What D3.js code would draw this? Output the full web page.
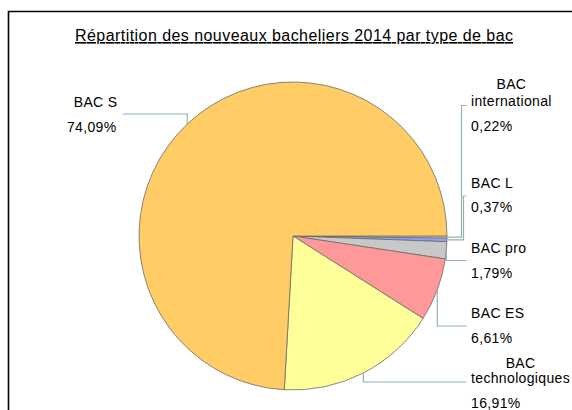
<!DOCTYPE html>
<html>
<head>
<meta charset="utf-8">
<script src="https://cdn.jsdelivr.net/npm/d3@7"></script>
<style>
  html, body { margin: 0; padding: 0; background: #fff; }
  svg { display: block; font-family: "Liberation Sans", Arial, sans-serif; }
</style>
</head>
<body>
<svg id="chart" width="572" height="410"></svg>
<script>
// ---- data ----
const categories = ["BAC international", "BAC L", "BAC pro", "BAC ES", "BAC technologiques", "BAC S"];
const nameLines = [["BAC", "international"], ["BAC L"], ["BAC pro"], ["BAC ES"], ["BAC", "technologiques"], ["BAC S"]];
const values = [0.22, 0.37, 1.79, 6.61, 16.91, 74.09];
const percentLabels = ["0,22%", "0,37%", "1,79%", "6,61%", "16,91%", "74,09%"];
const colors = ["#CCFFCC", "#9999FF", "#C8C8C8", "#FF9999", "#FFFF99", "#FFCC66"];
const title = "Répartition des nouveaux bacheliers 2014 par type de bac";

// ---- layout ----
const svg = d3.select("#chart");
const W = 572, H = 410;
const cx = 293, cy = 236, R = 154;
const FS = 14, LS = 0.35;

// frame
svg.append("path")
  .attr("d", `M8.5,${H + 5} L8.5,11.5 L${W + 5},11.5`)
  .attr("fill", "none").attr("stroke", "#000").attr("stroke-width", 1.6);

// title
svg.append("text")
  .attr("x", 75).attr("y", 41)
  .attr("font-size", 16)
  .attr("fill", "#000")
  .attr("text-decoration", "underline")
  .attr("textLength", 438)
  .attr("lengthAdjust", "spacing")
  .text(title);

// pie
const pie = d3.pie().sort(null).value(d => d).startAngle(Math.PI / 2).endAngle(Math.PI / 2 + 2 * Math.PI);
const arcs = pie(values);
const arc = d3.arc().innerRadius(0).outerRadius(R);
const g = svg.append("g").attr("transform", `translate(${cx},${cy})`);
g.selectAll("path.slice").data(arcs).enter().append("path")
  .attr("class", "slice")
  .attr("d", arc)
  .attr("fill", (d, i) => colors[i])
  .attr("stroke", "#6b6b6b")
  .attr("stroke-width", 0.8)
  .attr("stroke-linejoin", "round");

// label placement (layout only)
const labelX = 471;
const place = [
  { nameY: [89, 106], pctY: 131, side: "right", elbowX: 461.5, lineY: 105.5, center: true },
  { nameY: [188], pctY: 212, side: "right", elbowX: 463.5, lineY: 196 },
  { nameY: [253], pctY: 278, side: "right", lineY: 260.5 },
  { nameY: [318], pctY: 343, side: "right", lineY: 326 },
  { nameY: [368, 383], pctY: 408, side: "right", lineY: 382, center: true },
  { nameY: [107], pctY: 132, side: "left", lineY: 114, rightX: 117.5 }
];

function txt(x, y, s, anchor) {
  return svg.append("text").attr("x", x).attr("y", y)
    .attr("text-anchor", anchor || "start")
    .attr("font-size", FS).attr("letter-spacing", LS)
    .attr("fill", "#000").text(s);
}

const leaderColor = "#8fb5ab";
arcs.forEach((d, i) => {
  const p = place[i];
  const mid = (d.startAngle + d.endAngle) / 2;
  const ax = cx + R * Math.sin(mid);
  const ay = cy - R * Math.cos(mid);
  let pts;
  if (p.side === "left") {
    pts = [[ax, ay], [ax, p.lineY], [122.5, p.lineY]];
  } else if (p.elbowX) {
    pts = [[ax, ay], [p.elbowX, ay], [p.elbowX, p.lineY], [466.5, p.lineY]];
  } else {
    pts = [[ax, ay], [ax, p.lineY], [466.5, p.lineY]];
  }
  svg.append("path")
    .attr("d", d3.line()(pts))
    .attr("fill", "none")
    .attr("stroke", leaderColor)
    .attr("stroke-width", 1.2);

  const lines = nameLines[i];
  if (p.side === "left") {
    lines.forEach((ln, k) => txt(p.rightX, p.nameY[k], ln, "end"));
    txt(p.rightX - 1, p.pctY, percentLabels[i], "end");
  } else {
    if (p.center) {
      const tmp = lines.map(ln => txt(0, -50, ln));
      const widths = tmp.map(n => n.node().getComputedTextLength());
      tmp.forEach(n => n.remove());
      const maxW = d3.max(widths);
      lines.forEach((ln, k) => txt(labelX + maxW / 2, p.nameY[k], ln, "middle"));
    } else {
      lines.forEach((ln, k) => txt(labelX, p.nameY[k], ln));
    }
    txt(labelX, p.pctY, percentLabels[i]);
  }
});
</script>
</body>
</html>
